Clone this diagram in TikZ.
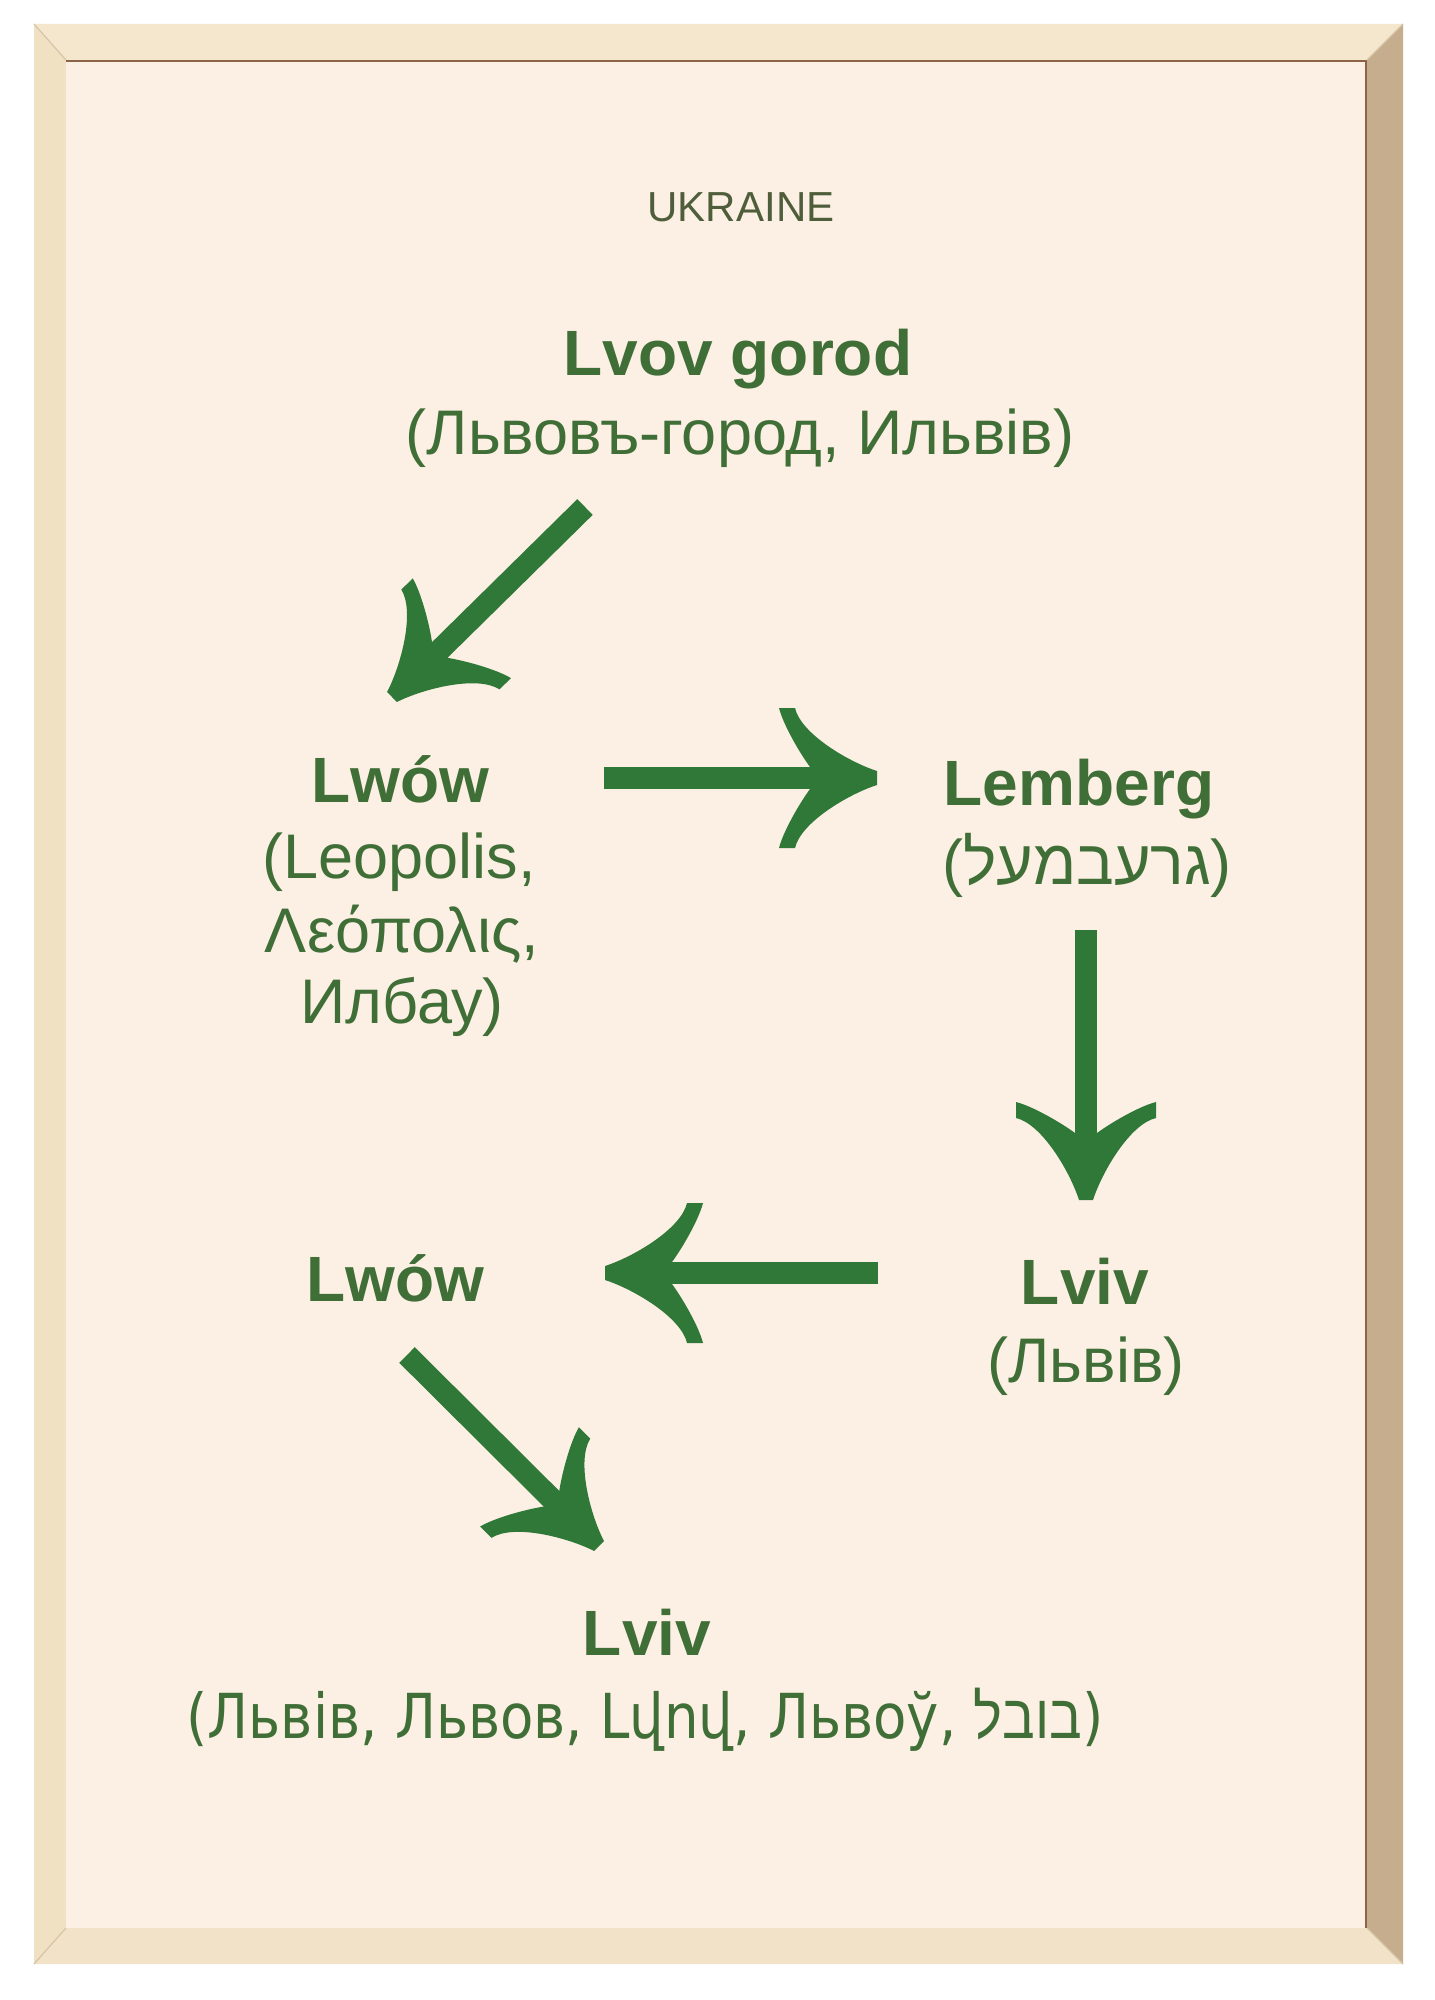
\documentclass[tikz,border=0pt]{standalone}
\usepackage{fontspec}
\setmainfont{Liberation Sans}
\newfontfamily\hebf[Script=Hebrew]{Liberation Sans}
\newfontfamily\condf[FakeStretch=0.88]{DejaVu Sans}
\newfontfamily\condhebf[Script=Hebrew,FakeStretch=0.88]{Liberation Sans}
\TeXXeTstate=1
\usetikzlibrary{arrows.meta}
\definecolor{panelc}{RGB}{252,239,227}
\definecolor{topc}{RGB}{244,231,206}
\definecolor{leftc}{RGB}{240,225,195}
\definecolor{bottomc}{RGB}{242,227,200}
\definecolor{rightc}{RGB}{198,173,142}
\definecolor{shadowc}{RGB}{140,100,72}
\definecolor{edgec}{RGB}{214,196,168}
\definecolor{textc}{RGB}{63,110,55}
\definecolor{arrowc}{RGB}{47,120,56}
\definecolor{titlec}{RGB}{79,94,58}
\pgfdeclarearrow{
  name = Leaf,
  parameters = {},
  setup code = {
    \pgfarrowssettipend{0pt}
    \pgfarrowssetlineend{-31pt}
    \pgfarrowssetvisualbackend{-49pt}
    \pgfarrowssetbackend{-49pt}
    \pgfarrowsupperhullpoint{0pt}{3.5pt}
    \pgfarrowsupperhullpoint{-41pt}{35pt}
    \pgfarrowsupperhullpoint{-49pt}{35pt}
  },
  drawing code = {
    \pgfpathmoveto{\pgfqpoint{0pt}{3.5pt}}
    \pgfpathcurveto{\pgfqpoint{-14pt}{8pt}}{\pgfqpoint{-38pt}{22pt}}{\pgfqpoint{-41pt}{35pt}}
    \pgfpathlineto{\pgfqpoint{-49pt}{35pt}}
    \pgfpathcurveto{\pgfqpoint{-47pt}{27pt}}{\pgfqpoint{-39pt}{13pt}}{\pgfqpoint{-33.5pt}{5.5pt}}
    \pgfpathlineto{\pgfqpoint{-33.5pt}{-5.5pt}}
    \pgfpathcurveto{\pgfqpoint{-39pt}{-13pt}}{\pgfqpoint{-47pt}{-27pt}}{\pgfqpoint{-49pt}{-35pt}}
    \pgfpathlineto{\pgfqpoint{-41pt}{-35pt}}
    \pgfpathcurveto{\pgfqpoint{-38pt}{-22pt}}{\pgfqpoint{-14pt}{-8pt}}{\pgfqpoint{0pt}{-3.5pt}}
    \pgfpathclose
    \pgfusepathqfill
  }
}
\begin{document}
\begin{tikzpicture}[x=0.5pt,y=-0.5pt,
  boldtxt/.style={inner sep=0pt, anchor=base, text=textc, font=\fontsize{32}{38}\selectfont\bfseries},
  regtxt/.style={inner sep=0pt, anchor=base, text=textc, font=\fontsize{31.5}{38}\selectfont},
  conn/.style={draw=arrowc, fill=arrowc, line width=11pt, -{Leaf}}]
\useasboundingbox (0,0) rectangle (1434,2000);
\fill[white] (0,0) rectangle (1434,2000);
% frame
\fill[topc] (34,24) -- (1403,24) -- (1367,60) -- (66,60) -- cycle;
\fill[leftc] (34,24) -- (66,60) -- (66,1928) -- (34,1964) -- cycle;
\fill[bottomc] (34,1964) -- (66,1928) -- (1367,1928) -- (1403,1964) -- cycle;
\fill[rightc] (1403,24) -- (1403,1964) -- (1367,1928) -- (1367,60) -- cycle;
\draw[edgec, line width=0.6pt] (34,24) -- (66,60) (1403,24) -- (1367,60) (34,1964) -- (66,1928) (1403,1964) -- (1367,1928);
\fill[panelc] (66,60) rectangle (1367,1928);
\draw[shadowc, line width=1.2pt] (66,61) -- (1366,61) -- (1366,1928);
% texts
\node[inner sep=0pt, anchor=base, text=titlec, font=\fontsize{21}{25}\selectfont] (title) at (741,222) {UKRAINE};
\node[boldtxt] (lvovA) at (738,376) {Lvov gorod};
\node[regtxt] (lvovB) at (740,455) {(Львовъ-город, Ильвів)};
\node[boldtxt] (lwowA) at (400,802) {Lwów};
\node[regtxt] (lwowB) at (399,878) {(Leopolis,};
\node[regtxt] (lwowC) at (402,952) {Λεόπολις,};
\node[regtxt] (lwowD) at (402,1023) {Илбау)};
\node[boldtxt] (lembA) at (1079,805) {Lemberg};
\node[regtxt] (lembB) at (1087,884) {({\hebf ל\kern0ptע\kern0ptמ\kern0ptב\kern0ptע\kern0ptר\kern0ptג})};
\node[boldtxt] (lvivA) at (1085,1304) {Lviv};
\node[regtxt] (lvivB) at (1086,1382) {(Львів)};
\node[boldtxt] (lwowE) at (395,1301) {Lwów};
\node[boldtxt] (lvivC) at (647,1655) {Lviv};
\node[inner sep=0pt, anchor=base, text=textc, font=\fontsize{31}{38}\selectfont\condf] (lvivD) at (645,1738) {(Львів, Львов, Լվով, Львоў, {\condhebf ל\kern0ptב\kern0ptו\kern0ptב})};
% arrows
\coordinate (a1s) at (585,507);  \coordinate (a1t) at (392,697);
\coordinate (a2s) at (604,778);  \coordinate (a2t) at (877,778);
\coordinate (a3s) at (1086,930); \coordinate (a3t) at (1086,1200);
\coordinate (a4s) at (878,1273); \coordinate (a4t) at (605,1273);
\coordinate (a5s) at (407,1355); \coordinate (a5t) at (599,1546);
\draw[conn] (a1s) -- (a1t);
\draw[conn] (a2s) -- (a2t);
\draw[conn] (a3s) -- (a3t);
\draw[conn] (a4s) -- (a4t);
\draw[conn] (a5s) -- (a5t);
\end{tikzpicture}
\end{document}
